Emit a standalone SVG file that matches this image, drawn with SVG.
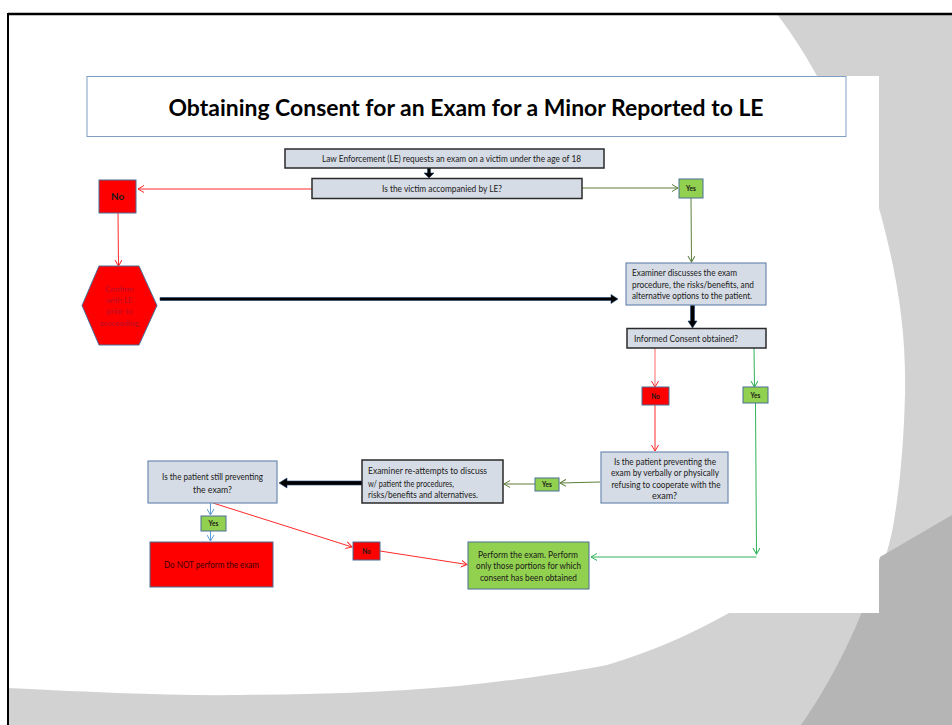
<svg xmlns="http://www.w3.org/2000/svg" width="952" height="725" viewBox="0 0 952 725">
<style>
text{font-family:Lato,"Liberation Sans",Arial,sans-serif;fill:#1a1a1a}
.t{font-size:9px}
.c{text-anchor:middle}
.lb{font-size:6.5px;font-weight:bold;text-anchor:middle}
.box{fill:#d6dce5;stroke:#6d8bb3;stroke-width:1.2}
.boxd{fill:#d6dce5;stroke:#2a2a2a;stroke-width:1.5}
.red{fill:#ff0000;stroke:#4a6f96;stroke-width:1}
.grn{fill:#92d050;stroke:#4a6f96;stroke-width:1}
.lr{stroke:#ff2a2a;stroke-width:1;fill:none}
.lo{stroke:#5f7f3d;stroke-width:1;fill:none}
.lg{stroke:#2fb35a;stroke-width:1;fill:none}
.lbl{stroke:#5b9bd5;stroke-width:1;fill:none}
.thick{fill:#000;stroke:#1f3f6f;stroke-width:0.6}
</style>
<defs>
<marker id="mr" markerWidth="8" markerHeight="8" refX="6" refY="4" orient="auto" markerUnits="userSpaceOnUse"><path d="M0,0.5 L6,4 L0,7.5" fill="none" stroke="#ff2a2a" stroke-width="1"/></marker>
<marker id="mo" markerWidth="8" markerHeight="8" refX="6" refY="4" orient="auto" markerUnits="userSpaceOnUse"><path d="M0,0.5 L6,4 L0,7.5" fill="none" stroke="#5f7f3d" stroke-width="1"/></marker>
<marker id="mg" markerWidth="8" markerHeight="8" refX="6" refY="4" orient="auto" markerUnits="userSpaceOnUse"><path d="M0,0.5 L6,4 L0,7.5" fill="none" stroke="#2fb35a" stroke-width="1"/></marker>
<marker id="mb" markerWidth="8" markerHeight="8" refX="6" refY="4" orient="auto" markerUnits="userSpaceOnUse"><path d="M0,0.5 L6,4 L0,7.5" fill="none" stroke="#5b9bd5" stroke-width="1"/></marker>
</defs>
<!-- background -->
<rect x="0" y="0" width="952" height="725" fill="#ffffff"/>
<rect x="8" y="14" width="944" height="711" fill="#d2d2d2"/>
<path d="M8,14 L777,14 C800,45 808,60 817,76 C850,130 875,185 885,231 C900,290 906,340 905,393 C904,440 900,490 892,532 C886,560 875,590 865,613 C845,655 825,690 801,725 L8,725 Z" fill="#ffffff"/>
<path d="M8,688 C90,692 170,696 243,695 C330,694 410,692 486,683 C530,678 570,672 607,665 C650,652 690,635 729,613 C780,585 820,565 870,540 L870,725 L8,725 Z" fill="#d2d2d2"/>
<path d="M952,515 L880,557 C870,600 840,670 801,725 L952,725 Z" fill="#b5b5b5"/>
<path d="M8,14 L952,14" stroke="#000" stroke-width="2.5"/>
<path d="M8,13 L8,725" stroke="#000" stroke-width="2"/>
<!-- white panel -->
<rect x="85" y="76" width="794" height="537" fill="#ffffff"/>
<g id="title">
<rect x="87" y="76.5" width="759" height="60" fill="#fff" stroke="#7f9fc5" stroke-width="1"/>
<text x="466" y="116" style="font-size:23px;font-weight:bold;text-anchor:middle;fill:#000" textLength="595" lengthAdjust="spacingAndGlyphs">Obtaining Consent for an Exam for a Minor Reported to LE</text>
</g>
<g id="connectors">
<polygon class="thick" points="427.5,168 430.5,168 430.5,173 434,173 429,178 424,173 427.5,173"/>
<line class="lr" x1="312" y1="189" x2="138" y2="189" marker-end="url(#mr)"/>
<line class="lo" x1="582" y1="188" x2="678" y2="188" marker-end="url(#mo)"/>
<line class="lr" x1="118" y1="213" x2="118.5" y2="266" marker-end="url(#mr)"/>
<line class="lo" x1="691" y1="198" x2="691.5" y2="262" marker-end="url(#mo)"/>
<polygon class="thick" points="160,297.5 611,297.5 611,294.5 618,299 611,303.5 611,300.5 160,300.5"/>
<polygon class="thick" points="690.5,305 694.5,305 694.5,321 697,321 692.5,328 688,321 690.5,321"/>
<line class="lr" x1="655" y1="348" x2="655" y2="387" marker-end="url(#mr)" style="stroke:#ff6a6a"/>
<line class="lg" x1="754" y1="348" x2="754.5" y2="387" marker-end="url(#mg)"/>
<line class="lr" x1="655" y1="405" x2="655" y2="451" marker-end="url(#mr)"/>
<line class="lo" x1="600" y1="482" x2="560" y2="483" marker-end="url(#mo)"/>
<line class="lo" x1="535" y1="484" x2="504" y2="484" marker-end="url(#mo)"/>
<polygon class="thick" points="362,481 287,481 287,478 279,483 287,488 287,485 362,485"/>
<line class="lbl" x1="210.5" y1="503" x2="210.5" y2="515" marker-end="url(#mb)"/>
<line class="lbl" x1="210.5" y1="531" x2="210.5" y2="541" marker-end="url(#mb)"/>
<line class="lr" x1="213" y1="503" x2="352" y2="547" marker-end="url(#mr)"/>
<line class="lr" x1="380" y1="551" x2="467" y2="564.5" marker-end="url(#mr)"/>
<line class="lg" x1="755.5" y1="403" x2="756.5" y2="554" marker-end="url(#mg)"/>
<line class="lg" x1="756.5" y1="557" x2="591" y2="557" marker-end="url(#mg)"/>
</g>
<g id="n-request">
<rect class="boxd" x="285" y="149" width="319" height="19"/>
<text class="t c" x="451.5" y="161.5" textLength="259" lengthAdjust="spacingAndGlyphs">Law Enforcement (LE) requests an exam on a  victim under the age of 18</text>
</g>
<g id="n-accompanied">
<rect class="boxd" x="312" y="178.5" width="270" height="20"/>
<text class="t c" x="442" y="191.5" textLength="120" lengthAdjust="spacingAndGlyphs">Is the victim accompanied by  LE?</text>
</g>
<g id="n-no1">
<rect class="red" x="99" y="180" width="37" height="33"/>
<text class="lb" x="117.5" y="199.5" style="font-size:9px" textLength="13" lengthAdjust="spacingAndGlyphs">No</text>
</g>
<g id="n-yes1">
<rect class="grn" x="679" y="179" width="24" height="19"/>
<text class="lb" x="691" y="191">Yes</text>
</g>
<g id="n-confirm">
<polygon class="red" points="99,266 139,266 157,305.5 139,345 99,345 82,305.5"/>
<text class="c" x="119.5" y="292" style="font-size:8px;fill:#b4102a">Confirm</text>
<text class="c" x="119.5" y="303" style="font-size:8px;fill:#b4102a">with LE</text>
<text class="c" x="119.5" y="314" style="font-size:8px;fill:#b4102a">prior to</text>
<text class="c" x="119.5" y="325.5" style="font-size:8px;fill:#b4102a">proceeding</text>
</g>
<g id="n-discuss">
<rect class="box" x="626" y="263" width="140" height="42"/>
<text class="t" x="632" y="276" textLength="105" lengthAdjust="spacingAndGlyphs">Examiner  discusses the exam</text>
<text class="t" x="632" y="287.5" textLength="122" lengthAdjust="spacingAndGlyphs">procedure, the risks/benefits,  and</text>
<text class="t" x="632" y="299" textLength="120" lengthAdjust="spacingAndGlyphs">alternative options to the patient.</text>
</g>
<g id="n-informed">
<rect class="boxd" x="627" y="328.5" width="139" height="19.5"/>
<text class="t" x="634" y="341.5" textLength="104" lengthAdjust="spacingAndGlyphs">Informed Consent  obtained?</text>
</g>
<g id="n-no2">
<rect class="red" x="642" y="387" width="27" height="18"/>
<text class="lb" x="655.5" y="398.5">No</text>
</g>
<g id="n-yes2">
<rect class="grn" x="743" y="387" width="25" height="16"/>
<text class="lb" x="755.5" y="397.5">Yes</text>
</g>
<g id="n-preventing">
<rect class="box" x="601" y="452" width="127" height="51"/>
<text class="t c" x="665" y="464.5" textLength="102" lengthAdjust="spacingAndGlyphs">Is the patient preventing the</text>
<text class="t c" x="665" y="476" textLength="108" lengthAdjust="spacingAndGlyphs">exam by verbally  or physically</text>
<text class="t c" x="666" y="487.5" textLength="109" lengthAdjust="spacingAndGlyphs">refusing  to cooperate with  the</text>
<text class="t c" x="664.5" y="499" textLength="25" lengthAdjust="spacingAndGlyphs">exam?</text>
</g>
<g id="n-yes3">
<rect class="grn" x="535" y="478" width="24" height="13"/>
<text class="lb" x="547" y="487">Yes</text>
</g>
<g id="n-reattempt">
<rect class="boxd" x="362" y="460" width="141" height="43"/>
<text class="t" x="368" y="473.5" textLength="119" lengthAdjust="spacingAndGlyphs">Examiner re-attempts  to  discuss</text>
<text class="t" x="368" y="486.5" textLength="86" lengthAdjust="spacingAndGlyphs">w/ patient  the procedures,</text>
<text class="t" x="368" y="497.5" textLength="110" lengthAdjust="spacingAndGlyphs">risks/benefits and alternatives.</text>
</g>
<g id="n-still">
<rect class="box" x="148" y="461" width="129" height="42"/>
<text class="t c" x="212.5" y="480" textLength="101" lengthAdjust="spacingAndGlyphs">Is the patient still preventing</text>
<text class="t c" x="212.5" y="492.5" textLength="39" lengthAdjust="spacingAndGlyphs">the exam?</text>
</g>
<g id="n-yes4">
<rect class="grn" x="201" y="516" width="25" height="15"/>
<text class="lb" x="213.5" y="526">Yes</text>
</g>
<g id="n-donot">
<rect class="red" x="150" y="542" width="123" height="45"/>
<text class="t c" x="211.5" y="568" style="fill:#3a0000" textLength="95" lengthAdjust="spacingAndGlyphs">Do NOT perform the exam</text>
</g>
<g id="n-no3">
<rect class="red" x="353" y="542" width="27" height="18"/>
<text class="lb" x="366.5" y="553.5">No</text>
</g>
<g id="n-perform">
<rect class="grn" x="468" y="542" width="121" height="47"/>
<text class="t c" x="528" y="557.5" textLength="100" lengthAdjust="spacingAndGlyphs">Perform the exam.  Perform</text>
<text class="t c" x="528.5" y="569" textLength="105" lengthAdjust="spacingAndGlyphs">only those portions for which</text>
<text class="t c" x="528.5" y="581" textLength="97" lengthAdjust="spacingAndGlyphs">consent has been obtained</text>
</g>
</svg>
